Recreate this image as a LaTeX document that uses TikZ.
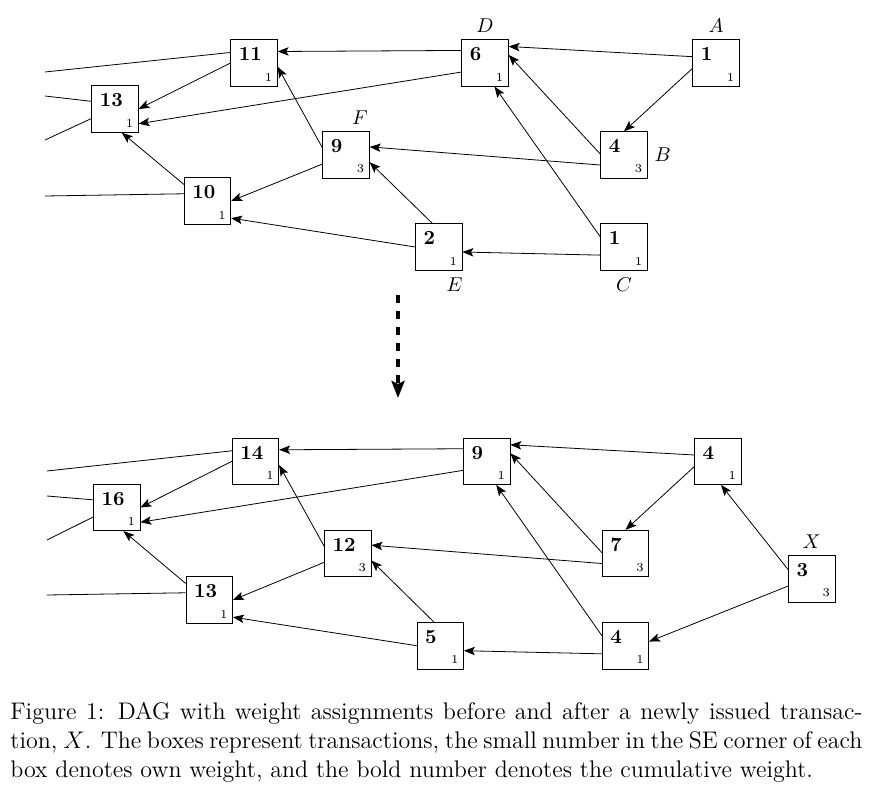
\documentclass[tikz,border=0pt]{standalone}
\usepackage{amsmath}
\usetikzlibrary{arrows.meta}

\begin{document}
\begin{tikzpicture}[x=0.5pt,y=-0.5pt,
	tx/.style={draw,minimum size=23.2pt,inner sep=0pt},
	cw/.style={anchor=north west,inner sep=4pt,font=\bfseries},
	ow/.style={anchor=south east,inner sep=2.5pt,font=\fontsize{6}{7}\selectfont},
	arr/.style={-{Stealth[length=5.5pt,width=4.2pt,inset=1.2pt]}}]
	\useasboundingbox (0,0) rectangle (884,786);
	% before
	\node[tx,label={[cw]north west:13},label={[ow]south east:1}] (t13) at (115,109) {};
	\node[tx,label={[cw]north west:10},label={[ow]south east:1}] (t10) at (207.5,201) {};
	\node[tx,label={[cw]north west:11},label={[ow]south east:1}] (t11) at (254,63) {};
	\node[tx,label={[cw]north west:9},label={[ow]south east:3},label={[xshift=7pt]above:$F$}] (t9) at (346,155) {};
	\node[tx,label={[cw]north west:2},label={[ow]south east:1},label={[xshift=8pt]below:$E$}] (t2) at (438.7,247) {};
	\node[tx,label={[cw]north west:6},label={[ow]south east:1},label={above:$D$}] (t6) at (485,63) {};
	\node[tx,label={[cw]north west:4},label={[ow]south east:3},label={right:$B$}] (t4) at (624,155) {};
	\node[tx,label={[cw]north west:1},label={[ow]south east:1},label={below:$C$}] (t1c) at (624,247) {};
	\node[tx,label={[cw]north west:1},label={[ow]south east:1},label={above:$A$}] (t1a) at (716,63) {};
	\coordinate (tl1) at (45,72);
	\coordinate (tl2) at (45,96);
	\coordinate (tl3) at (45,140);
	\coordinate (tl4) at (45,196);
	\draw (t11.156) -- (tl1);
	\draw (t13.162) -- (tl2);
	\draw (t13.202) -- (tl3);
	\draw (t10.163) -- (tl4);
	\draw[arr] (t6.152) -- (t11.26);
	\draw[arr] (t11.west) -- (t13.east);
	\draw[arr] (t6.201) -- (t13.-32);
	\draw[arr] (t9.163) -- (t11.-9);
	\draw[arr] (t9.201) -- (t10.east);
	\draw[arr] (t10.145) -- (t13.-74);
	\draw[arr] (t2.west) -- (t10.-36);
	\draw[arr] (t2.105) -- (t9.-17);
	\draw[arr] (t4.203) -- (t9.19);
	\draw[arr] (t4.178) -- (t6.19);
	\draw[arr] (t1c.157) -- (t6.-68);
	\draw[arr] (t1c.199) -- (t2.-12);
	\draw[arr] (t1a.165) -- (t6.35);
	\draw[arr] (t1a.193) -- (t4.north);
	% issue X
	\coordinate (arrtop) at (398,295);
	\coordinate (arrbot) at (398,398);
	\draw[line width=2pt,dash pattern=on 4pt off 4pt,-{Stealth[length=8.5pt,width=6.5pt,inset=1.5pt]}] (arrtop) -- (arrbot);
	% after
	\node[tx,label={[cw]north west:16},label={[ow]south east:1}] (b16) at (116.7,507.5) {};
	\node[tx,label={[cw]north west:13},label={[ow]south east:1}] (b13) at (209.3,600) {};
	\node[tx,label={[cw]north west:14},label={[ow]south east:1}] (b14) at (255.5,461.3) {};
	\node[tx,label={[cw]north west:12},label={[ow]south east:3}] (b12) at (347.7,553.3) {};
	\node[tx,label={[cw]north west:5},label={[ow]south east:1}] (b5) at (440.3,645.7) {};
	\node[tx,label={[cw]north west:9},label={[ow]south east:1}] (b9) at (486.7,461.3) {};
	\node[tx,label={[cw]north west:7},label={[ow]south east:3}] (b7) at (625.5,553.5) {};
	\node[tx,label={[cw]north west:4},label={[ow]south east:1}] (b4c) at (625.5,645.7) {};
	\node[tx,label={[cw]north west:4},label={[ow]south east:1}] (b4a) at (717.7,461.3) {};
	\node[tx,label={[cw]north west:3},label={[ow]south east:3},label={above:$X$}] (bx) at (811.8,578.8) {};
	\coordinate (bl1) at (47,471);
	\coordinate (bl2) at (47,496);
	\coordinate (bl3) at (47,540);
	\coordinate (bl4) at (47,595);
	\draw (b14.156) -- (bl1);
	\draw (b16.162) -- (bl2);
	\draw (b16.202) -- (bl3);
	\draw (b13.163) -- (bl4);
	\draw[arr] (b9.152) -- (b14.26);
	\draw[arr] (b14.west) -- (b16.east);
	\draw[arr] (b9.201) -- (b16.-32);
	\draw[arr] (b12.163) -- (b14.-9);
	\draw[arr] (b12.201) -- (b13.east);
	\draw[arr] (b13.145) -- (b16.-74);
	\draw[arr] (b5.west) -- (b13.-36);
	\draw[arr] (b5.105) -- (b12.-17);
	\draw[arr] (b7.203) -- (b12.19);
	\draw[arr] (b7.178) -- (b9.19);
	\draw[arr] (b4c.157) -- (b9.-68);
	\draw[arr] (b4c.199) -- (b5.-12);
	\draw[arr] (b4a.165) -- (b9.35);
	\draw[arr] (b4a.193) -- (b7.north);
	\draw[arr] (bx.159) -- (b4a.-82);
	\draw[arr] (bx.197) -- (b4c.10);
	% caption
	\node[anchor=north west,text width=426pt,align=justify,inner sep=0pt,font=\fontsize{12}{14.6}\selectfont] (cap) at (10,702) {Figure 1: DAG with weight assignments before and after a newly issued transac-\linebreak tion, $X$. The boxes represent transactions, the small number in the SE corner of each\linebreak box denotes own weight, and the bold number denotes the cumulative weight.};
\end{tikzpicture}
\end{document}
